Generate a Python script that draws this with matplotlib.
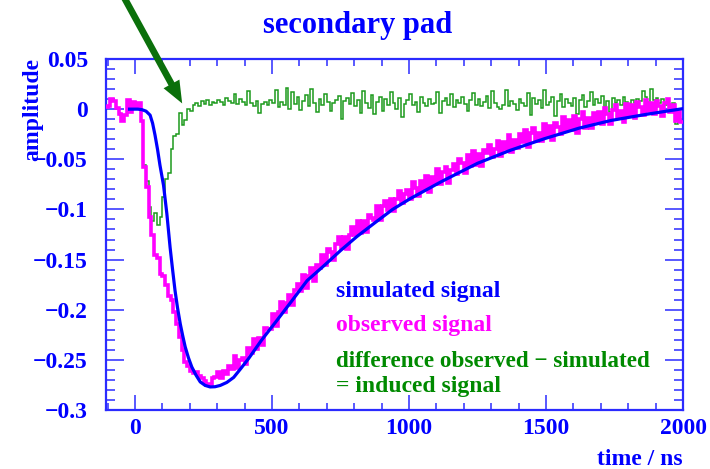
import numpy as np
import matplotlib
matplotlib.use("Agg")
import matplotlib.pyplot as plt
from matplotlib.ticker import MultipleLocator, FixedLocator, FixedFormatter

plt.rcParams['font.family'] = ['Liberation Serif', 'DejaVu Serif']
plt.rcParams['font.weight'] = 'bold'

# simulated signal (smooth curve), time in ns
sim_t = [-20, 10, 25, 40, 55, 64, 73, 82, 91, 104, 116, 128, 137, 146, 155, 165,
         174, 183, 195, 207, 222, 238, 256, 274, 292, 311, 335, 360, 385, 415,
         460, 518, 570, 628, 690, 750, 810, 872, 940, 1006, 1120, 1250, 1370,
         1494, 1620, 1737, 1870, 2000]
sim_amp = [0, 0, -0.0005, -0.002, -0.006, -0.014, -0.026, -0.040, -0.056, -0.076,
           -0.104, -0.138, -0.160, -0.181, -0.198, -0.214, -0.226, -0.237, -0.248,
           -0.257, -0.265, -0.272, -0.2755, -0.277, -0.2768, -0.2755, -0.2725,
           -0.2675, -0.259, -0.2485, -0.231, -0.2106, -0.192, -0.171, -0.156, -0.141,
           -0.127, -0.114, -0.100, -0.089, -0.072, -0.054, -0.041, -0.0295, -0.019,
           -0.0113, -0.005, 0.0005]

# histograms: 10 ns bins from -110 ns to 2000 ns
bin_start, bin_width, bin_stop = -110, 10, 2000

observed = [
    0.002, 0.003, 0.010, 0.008, 0.001, -0.005, -0.012, -0.006, 0.009, -0.003,
    0.007, 0.001, 0.006, -0.012, -0.058, -0.078, -0.108, -0.125, -0.145, -0.148,
    -0.164, -0.166, -0.175, -0.186, -0.190, -0.202, -0.214, -0.227, -0.240, -0.252,
    -0.256, -0.261, -0.263, -0.262, -0.266, -0.268, -0.271, -0.275, -0.274, -0.268,
    -0.267, -0.262, -0.268, -0.261, -0.264, -0.256, -0.259, -0.246, -0.258, -0.250,
    -0.248, -0.254, -0.238, -0.243, -0.229, -0.239, -0.228, -0.235, -0.218, -0.219,
    -0.219, -0.204, -0.216, -0.202, -0.192, -0.202, -0.193, -0.185, -0.195, -0.180,
    -0.174, -0.181, -0.165, -0.178, -0.166, -0.158, -0.171, -0.155, -0.158, -0.145,
    -0.155, -0.139, -0.142, -0.150, -0.134, -0.127, -0.138, -0.127, -0.139, -0.125,
    -0.118, -0.125, -0.112, -0.124, -0.112, -0.123, -0.106, -0.109, -0.111, -0.097,
    -0.111, -0.097, -0.092, -0.101, -0.090, -0.102, -0.090, -0.082, -0.094, -0.085,
    -0.081, -0.090, -0.073, -0.079, -0.087, -0.072, -0.080, -0.067, -0.083, -0.068,
    -0.075, -0.060, -0.075, -0.063, -0.058, -0.074, -0.061, -0.055, -0.065, -0.050,
    -0.054, -0.064, -0.046, -0.057, -0.042, -0.056, -0.045, -0.057, -0.041, -0.044,
    -0.036, -0.048, -0.040, -0.032, -0.047, -0.033, -0.040, -0.026, -0.043, -0.031,
    -0.039, -0.025, -0.033, -0.021, -0.038, -0.024, -0.019, -0.032, -0.024, -0.032,
    -0.015, -0.027, -0.017, -0.031, -0.014, -0.018, -0.025, -0.008, -0.021, -0.011,
    -0.021, -0.007, -0.024, -0.010, -0.003, -0.019, -0.009, -0.019, -0.004, -0.012,
    -0.003, -0.015, 0.001, -0.005, -0.015, -0.001, 0.004, -0.009, -0.002, -0.013,
    0.005, -0.006, 0.004, -0.009, 0.007, 0.002, -0.006, 0.009, -0.002, 0.006,
    -0.005, 0.008, 0.003, -0.007, 0.006, 0.010, -0.003, 0.004, -0.012, -0.003,
    -0.013,
]

difference = [
    0.002, 0.003, 0.010, 0.008, 0.001, -0.005, -0.012, -0.006, 0.009, -0.003,
    0.007, 0.001, 0.006, -0.012, -0.056, -0.072, -0.098, -0.112, -0.104, -0.116,
    -0.108, -0.088, -0.070, -0.064, -0.040, -0.027, -0.025, -0.004, -0.016, -0.011,
    0.000, -0.002, 0.004, 0.006, 0.003, 0.008, 0.005, 0.009, 0.004, 0.007,
    0.006, 0.009, 0.007, 0.004, 0.011, 0.008, 0.006, 0.015, 0.005, 0.010,
    0.007, 0.004, 0.018, 0.006, 0.003, 0.008, -0.004, 0.005, 0.007, 0.004,
    0.009, 0.006, 0.019, 0.002, 0.007, 0.004, 0.021, 0.000, 0.017, 0.005,
    0.012, -0.001, 0.008, 0.014, 0.003, 0.020, 0.006, -0.003, 0.010, 0.004,
    0.015, 0.007, -0.002, 0.006, 0.009, 0.013, -0.010, 0.008, 0.011, 0.005,
    0.016, 0.003, 0.009, -0.004, 0.018, 0.006, 0.001, 0.014, -0.005, 0.007,
    0.012, -0.002, 0.010, 0.004, 0.017, 0.006, 0.000, 0.011, -0.008, 0.005,
    0.009, 0.015, 0.004, 0.007, -0.003, 0.012, 0.006, 0.003, 0.010, 0.005,
    0.006, 0.017, -0.004, 0.008, 0.011, 0.004, 0.015, 0.002, 0.009, 0.006,
    0.012, 0.005, -0.002, 0.009, 0.016, 0.004, 0.010, 0.003, 0.007, 0.013,
    0.001, 0.018, 0.006, 0.002, 0.000, 0.004, 0.019, 0.003, 0.008, 0.005,
    -0.001, 0.010, 0.006, 0.003, 0.016, -0.006, 0.011, 0.005, 0.009, 0.001,
    0.019, 0.004, 0.007, 0.012, -0.007, 0.008, 0.015, 0.002, 0.010, 0.006,
    0.003, 0.011, -0.005, 0.009, 0.014, 0.002, 0.008, 0.017, 0.004, 0.010,
    0.006, 0.013, 0.002, 0.008, -0.003, 0.011, 0.006, 0.009, 0.004, 0.012,
    0.007, 0.005, 0.009, 0.006, 0.010, 0.008, 0.018, 0.012, 0.006, 0.020,
    0.009, 0.011, 0.006, 0.010, 0.004, 0.008, 0.003, 0.006, -0.015, -0.008,
    -0.012,
]

y_ticks = [-0.3, -0.25, -0.2, -0.15, -0.1, -0.05, 0, 0.05]
y_tick_labels = ['\u22120.3', '\u22120.25', '\u22120.2', '\u22120.15',
                 '\u22120.1', '\u22120.05', '0', '0.05']
x_ticks = [0, 500, 1000, 1500, 2000]

BLUE = '#0000ff'
FRAME = '#2b2bff'
MAGENTA = '#ff00ff'
GREEN_LINE = '#1c9a1c'
GREEN_TEXT = '#008a00'
ARROW = '#0b700b'

edges = np.arange(bin_start, bin_stop + 1, bin_width)

fig = plt.figure(figsize=(7.1, 4.69), dpi=100)
ax = fig.add_axes([106/710, 59/469, 577/710, 351/469])

ax.stairs(difference, edges, baseline=None, color=GREEN_LINE, lw=1.1, zorder=2)
ax.stairs(observed, edges, baseline=None, color=MAGENTA, lw=2.6, zorder=3)
ax.plot(sim_t, sim_amp, color=BLUE, lw=2.3, zorder=4)

ax.set_xlim(-106, 2000)
ax.set_ylim(-0.3, 0.05)

ax.xaxis.set_major_locator(FixedLocator(x_ticks))
ax.xaxis.set_minor_locator(MultipleLocator(100))
ax.yaxis.set_major_locator(FixedLocator(y_ticks))
ax.yaxis.set_major_formatter(FixedFormatter(y_tick_labels))
ax.yaxis.set_minor_locator(MultipleLocator(0.01))

for s in ax.spines.values():
    s.set_color(FRAME)
    s.set_linewidth(1.6)

ax.tick_params(which='both', direction='in', top=True, right=True,
               color=FRAME, width=1.1, labelcolor=BLUE, labelsize=17)
ax.tick_params(axis='x', which='major', length=11, pad=6)
ax.tick_params(axis='x', which='minor', length=5)
ax.tick_params(axis='y', which='major', length=13, pad=13)
ax.tick_params(axis='y', which='minor', length=6.5)

# title and axis titles, ROOT style placement
fig.text(357.5/710, 1 - 33/469, 'secondary pad', ha='center', va='baseline',
         fontsize=22, color=BLUE, weight='bold')
fig.text(33/710, 1 - 58/469, 'amplitude', rotation=90, ha='center', va='top',
         fontsize=17, color=BLUE, weight='bold')
fig.text(683/710, 1 - 465/469, 'time / ns', ha='right', va='baseline',
         fontsize=17, color=BLUE, weight='bold')

# legend text
fig.text(336/710, 1 - 297/469, 'simulated signal', fontsize=17,
         color=BLUE, weight='bold', va='baseline')
fig.text(336/710, 1 - 331/469, 'observed signal', fontsize=17,
         color=MAGENTA, weight='bold', va='baseline')
fig.text(336/710, 1 - 367/469, 'difference observed \u2212 simulated', fontsize=16.7,
         color=GREEN_TEXT, weight='bold', va='baseline')
fig.text(336/710, 1 - 392/469, '= induced signal', fontsize=17,
         color=GREEN_TEXT, weight='bold', va='baseline')

# arrow pointing at the induced signal
ax.annotate('', xy=(172, 0.0057), xycoords='data',
            xytext=(120/710, 1 + 10/469), textcoords='figure fraction',
            arrowprops=dict(arrowstyle='simple,head_length=0.8,head_width=0.65,tail_width=0.24',
                            color=ARROW, lw=0, shrinkA=0, shrinkB=0,
                            mutation_scale=20),
            annotation_clip=False)

fig.savefig('out.png', dpi=100)
